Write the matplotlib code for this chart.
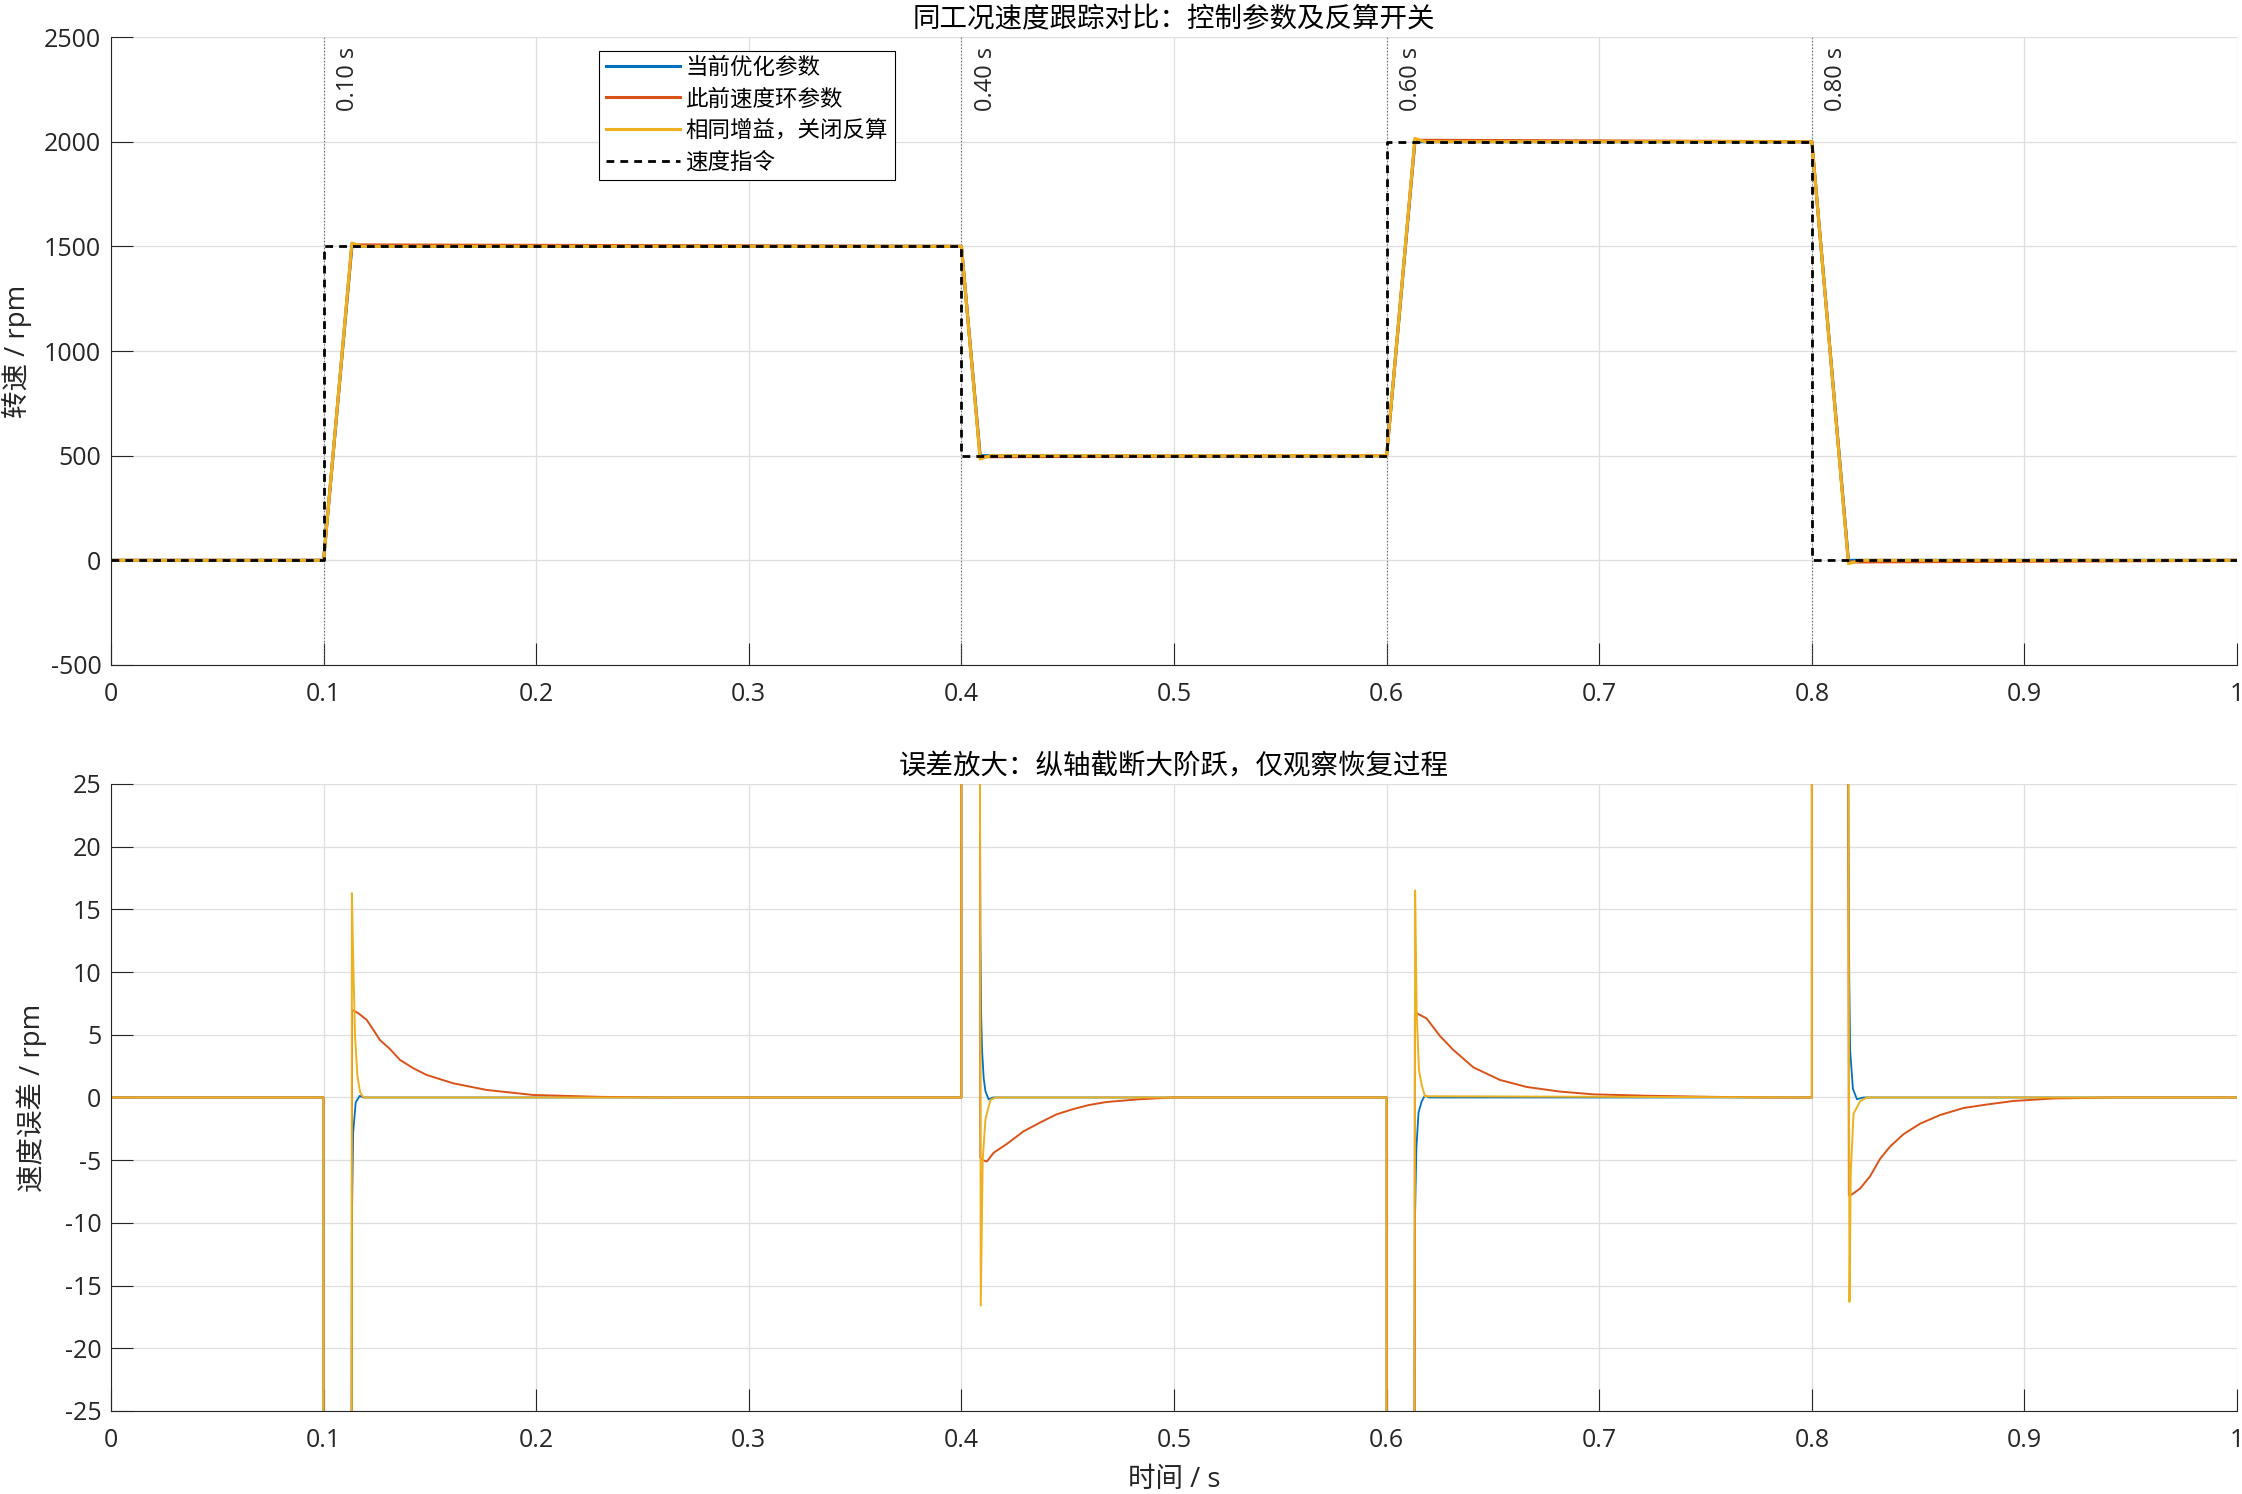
import numpy as np
import matplotlib
matplotlib.use("Agg")
import matplotlib.pyplot as plt
from matplotlib.ticker import FixedLocator, FixedFormatter

plt.rcParams['font.family'] = ['Open Sans', 'Noto Sans CJK SC', 'DejaVu Sans']
plt.rcParams['axes.unicode_minus'] = False

# ---- data ----
cmd_t = [0, 0.1, 0.1, 0.4, 0.4, 0.6, 0.6, 0.8, 0.8, 1.0]
cmd_v = [0, 0, 1500, 1500, 500, 500, 2000, 2000, 0, 0]

spd_t = [0, 0.1, 0.1133, 0.4, 0.4088, 0.6, 0.6133, 0.8, 0.8172, 1.0]
spd_blue = [0, 0, 1500, 1500, 500, 500, 2000, 2000, 0, 0]
spd_red = [0, 0, 1507, 1500, 495, 500, 2007, 2000, -8, 0]
spd_yel_t = [0, 0.1, 0.1133, 0.118, 0.4, 0.4088, 0.4136, 0.6, 0.6133, 0.618, 0.8, 0.8172, 0.8227, 1.0]
spd_yel = [0, 0, 1516, 1500, 1500, 484, 500, 500, 2016, 2000, 2000, -16, 0, 0]

err_blue_t = [0, 0.1, 0.1001, 0.1132, 0.1133, 0.1139, 0.1151, 0.1170, 0.1188,
              0.4, 0.4001, 0.4087, 0.4088, 0.4089, 0.4093, 0.4097, 0.4105, 0.4113, 0.4128, 0.415,
              0.6, 0.6001, 0.6131, 0.6133, 0.6140, 0.6150, 0.6165, 0.618, 0.62,
              0.8, 0.8001, 0.8170, 0.8172, 0.8176, 0.8180, 0.8193, 0.8212, 0.8243, 1.0]
err_blue = [0, 0, -1500, -30, -10, -2.8, -0.4, 0.13, 0,
            0, 1000, 30, 20, 13, 6.5, 3.8, 1.5, 0.5, -0.15, 0,
            0, -1500, -30, -10, -4, -1.2, -0.3, 0.15, 0,
            0, 2000, 30, 20, 9.4, 3.8, 0.7, -0.14, 0, 0]

err_red_t = [0, 0.1, 0.1001, 0.1132, 0.1134, 0.1165, 0.1202, 0.1234, 0.1264, 0.1313, 0.1359, 0.1420,
             0.1484, 0.161, 0.1767, 0.1986, 0.23, 0.26,
             0.4, 0.4001, 0.4087, 0.4089, 0.4100, 0.4120, 0.4152, 0.4214, 0.4292, 0.4370, 0.4448,
             0.4527, 0.4600, 0.4683, 0.4839, 0.4995,
             0.6, 0.6001, 0.6131, 0.6133, 0.6188, 0.6251, 0.6313, 0.6408, 0.6533, 0.6658, 0.6815, 0.6972,
             0.7223, 0.7536, 0.78,
             0.8, 0.8001, 0.8171, 0.8174, 0.8188, 0.8227, 0.8274, 0.8321, 0.8368, 0.8431, 0.8509, 0.8603,
             0.8713, 0.8823, 0.8948, 0.9136, 0.9418, 1.0]
err_red = [0, 0, -1500, -30, 7.0, 6.7, 6.2, 5.4, 4.6, 3.85, 3.0, 2.35,
           1.8, 1.13, 0.6, 0.2, 0.05, 0,
           0, 1000, 30, -4.8, -5.0, -5.1, -4.4, -3.7, -2.7, -2.0, -1.34,
           -0.92, -0.6, -0.36, -0.14, 0,
           0, -1500, -30, 6.8, 6.3, 4.9, 3.8, 2.4, 1.4, 0.84, 0.47, 0.25,
           0.14, 0.05, 0,
           0, 2000, 30, -7.8, -7.74, -7.26, -6.28, -4.89, -3.91, -2.93, -2.09, -1.40,
           -0.84, -0.56, -0.28, -0.08, 0, 0]

err_yel_t = [0, 0.1, 0.1001, 0.1132, 0.1133, 0.1141, 0.1148, 0.1159, 0.1172, 0.1188,
             0.4, 0.4001, 0.4087, 0.4091, 0.4100, 0.4113, 0.4136, 0.416,
             0.6, 0.6001, 0.6131, 0.6134, 0.6141, 0.6152, 0.6165, 0.618,
             0.8, 0.8001, 0.8171, 0.8177, 0.8183, 0.8196, 0.8227, 0.8259, 1.0]
err_yel = [0, 0, -1500, -30, 16.3, 9.7, 4.9, 1.7, 0.4, 0,
           0, 1000, 30, -16.6, -5, -1.75, -0.2, 0,
           0, -1500, -30, 16.5, 7, 2.2, 1.0, 0.1,
           0, 2000, 30, -16.3, -6, -1.3, -0.3, 0, 0]

marker_times = [0.1, 0.4, 0.6, 0.8]
series_names = ['当前优化参数', '此前速度环参数', '相同增益，关闭反算', '速度指令']
x_ticks = [0, 0.1, 0.2, 0.3, 0.4, 0.5, 0.6, 0.7, 0.8, 0.9, 1]
x_tick_labels = ['0', '0.1', '0.2', '0.3', '0.4', '0.5', '0.6', '0.7', '0.8', '0.9', '1']
y1_ticks = [-500, 0, 500, 1000, 1500, 2000, 2500]
y2_ticks = [-25, -20, -15, -10, -5, 0, 5, 10, 15, 20, 25]

c_blue = '#0072BD'
c_red = '#D95319'
c_yel = '#EDB120'
ink = '#262626'

fig = plt.figure(figsize=(22.42, 14.94), dpi=100)
ax1 = fig.add_axes([0.0495, 0.5549, 0.9483, 0.4203])
ax2 = fig.add_axes([0.0495, 0.05556, 0.9483, 0.4197])


def style(ax, yticks):
    ax.set_xlim(0, 1)
    ax.set_ylim(yticks[0], yticks[-1])
    ax.xaxis.set_major_locator(FixedLocator(x_ticks))
    ax.xaxis.set_major_formatter(FixedFormatter(x_tick_labels))
    ax.yaxis.set_major_locator(FixedLocator(yticks))
    ax.set_yticklabels([str(v) for v in yticks])
    ax.grid(True, color='#dedede', lw=0.9)
    ax.set_axisbelow(True)
    for s in ['top', 'right']:
        ax.spines[s].set_visible(False)
    for s in ['left', 'bottom']:
        ax.spines[s].set_color(ink)
        ax.spines[s].set_linewidth(0.8)
    ax.tick_params(direction='in', length=15.5, width=0.8, color=ink,
                   labelsize=18, labelcolor=ink)
    ax.tick_params(axis='x', pad=12)
    ax.tick_params(axis='y', pad=7)


# ---- top: speed tracking ----
style(ax1, y1_ticks)
for t in marker_times:
    ax1.axvline(t, color='#606060', ls=(0, (1, 2)), lw=0.8, zorder=1)
    ax1.annotate(f'{t:.2f} s', xy=(t, 1), xycoords=('data', 'axes fraction'),
                 xytext=(9, -7), textcoords='offset points', rotation=90,
                 ha='left', va='top', fontsize=17, color=ink)
ax1.plot(spd_t, spd_blue, color=c_blue, lw=2.2, label=series_names[0])
ax1.plot(spd_t, spd_red, color=c_red, lw=2.2, label=series_names[1])
ax1.plot(spd_yel_t, spd_yel, color=c_yel, lw=2.2, label=series_names[2])
ax1.plot(cmd_t, cmd_v, color='black', lw=2, ls=(0, (2.8, 2.2)), label=series_names[3])
ax1.text(0.5, 1.027, '同工况速度跟踪对比：控制参数及反算开关', transform=ax1.transAxes,
         ha='center', va='center', fontsize=19.8, color='black')
ax1.set_ylabel('转速 / rpm', fontsize=19.8, color=ink)
ax1.yaxis.set_label_coords(-0.037, 0.5)
leg = ax1.legend(loc='upper left', bbox_to_anchor=(0.2295, 0.9785), borderaxespad=0,
                 fontsize=16.2, handlelength=3.3, handletextpad=0.25, labelspacing=0.45,
                 borderpad=0.3, fancybox=False, framealpha=1, edgecolor='black')
leg.get_frame().set_linewidth(0.8)

# ---- bottom: zoomed error ----
style(ax2, y2_ticks)
ax2.plot(err_blue_t, err_blue, color=c_blue, lw=1.3)
ax2.plot(err_red_t, err_red, color=c_red, lw=1.4)
ax2.plot(err_yel_t, err_yel, color=c_yel, lw=1.4)
ax2.text(0.5, 1.027, '误差放大：纵轴截断大阶跃，仅观察恢复过程', transform=ax2.transAxes,
         ha='center', va='center', fontsize=19.8, color='black')
ax2.set_ylabel('速度误差 / rpm', fontsize=19.8, color=ink)
ax2.yaxis.set_label_coords(-0.030, 0.5)
ax2.set_xlabel('时间 / s', fontsize=19.8, color=ink)
ax2.xaxis.set_label_coords(0.5, -0.088)

fig.savefig('out.png', dpi=100)
